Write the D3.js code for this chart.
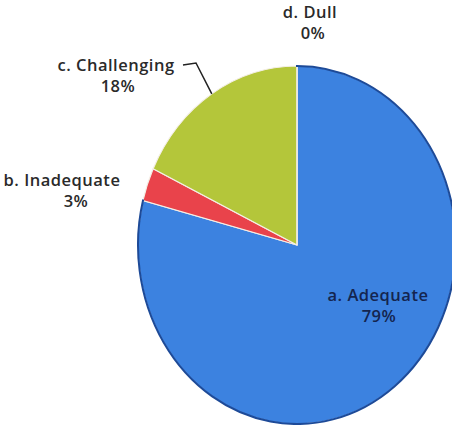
<!DOCTYPE html>
<html><head><meta charset="utf-8">
<script src="https://cdn.jsdelivr.net/npm/d3@7"></script>
<style>html,body{margin:0;padding:0;background:#fff;}svg{display:block;}</style>
</head><body>
<svg id="chart" width="452" height="425"></svg>
<script>
// ---- data ----
const categories = ["a. Adequate", "b. Inadequate", "c. Challenging", "d. Dull"];
const values = [79, 3, 18, 0];
const percentLabels = ["79%", "3%", "18%", "0%"];

// ---- styles / layout ----
const colors = ["#3c82e0", "#e9434b", "#b4c63a", "#7f7f7f"];
const cx = 297, cy = 245, rx = 159, ry = 179;
const labelPos = [
  {x: 378, y: 297, color: "#14254f"},
  {x: 62, y: 182, color: "#2a2a2a"},
  {x: 116, y: 67, color: "#2a2a2a"},
  {x: 310, y: 14, color: "#2a2a2a"}
];
const pctOffset = [[1, 0], [14, 0], [2, 0], [3, 0]];
const lineGap = 21;

const svg = d3.select("#chart");
const pie = d3.pie().sort(null).value(d => d);
const arcs = pie(values);
const arc = d3.arc().innerRadius(0).outerRadius(rx);

const g = svg.append("g")
  .attr("transform", `translate(${cx},${cy}) scale(1,${ry / rx})`);

g.selectAll("path.slice").data(arcs).join("path")
  .attr("class", "slice")
  .attr("d", arc)
  .attr("fill", (d, i) => colors[i])
  .attr("stroke", "#f4efe6")
  .attr("stroke-width", 1.2)
  .attr("vector-effect", "non-scaling-stroke");

// dark outer rim on the blue slice
g.append("path")
  .attr("d", d3.arc().innerRadius(rx - 0.01).outerRadius(rx)({startAngle: arcs[0].startAngle, endAngle: arcs[0].endAngle}))
  .attr("fill", "none")
  .attr("stroke", "#1d4a98")
  .attr("stroke-width", 2)
  .attr("vector-effect", "non-scaling-stroke");

// leader line for "c. Challenging"
const mid = (arcs[2].startAngle + arcs[2].endAngle) / 2;
const px = cx + rx * Math.sin(mid), py = cy - ry * Math.cos(mid);
svg.append("path")
  .attr("d", d3.line()([[183, 65], [196, 63], [px, py]]))
  .attr("fill", "none")
  .attr("stroke", "#222")
  .attr("stroke-width", 1.5);

// labels
const labels = svg.append("g")
  .attr("font-family", "'Open Sans', 'Noto Sans', sans-serif")
  .attr("font-size", 16.5)
  .attr("font-weight", 600)
  .attr("letter-spacing", 0.5)
  .attr("text-anchor", "middle");
categories.forEach((c, i) => {
  labels.append("text")
    .attr("x", labelPos[i].x).attr("y", labelPos[i].y)
    .attr("dominant-baseline", "middle")
    .attr("fill", labelPos[i].color)
    .text(c);
  labels.append("text")
    .attr("x", labelPos[i].x + pctOffset[i][0]).attr("y", labelPos[i].y + lineGap + pctOffset[i][1])
    .attr("dominant-baseline", "middle")
    .attr("fill", labelPos[i].color)
    .text(percentLabels[i]);
});
</script>
</body></html>
